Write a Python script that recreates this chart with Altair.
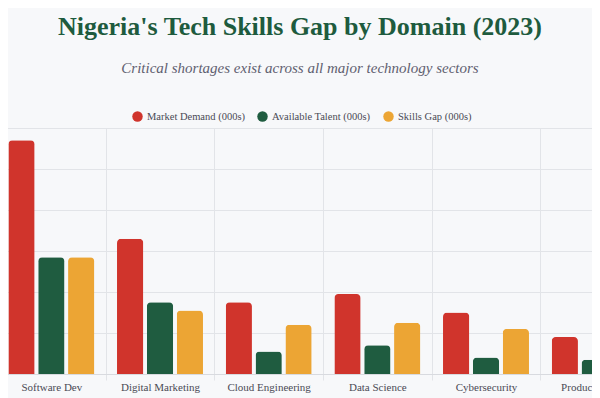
import altair as alt
import pandas as pd

categories = ["Software Dev", "Digital Marketing", "Cloud Engineering",
              "Data Science", "Cybersecurity", "Product Design"]
series = ["Market Demand (000s)", "Available Talent (000s)", "Skills Gap (000s)"]
demand = [114, 66, 35, 39, 30, 18]
talent = [57, 35, 11, 14, 8, 7]
gap = [57, 31, 24, 25, 22, 11]
colors = ["#d0342c", "#1f5c40", "#eca534"]

rows = []
for i, c in enumerate(categories):
    for s, vals in zip(series, [demand, talent, gap]):
        rows.append({"category": c, "series": s, "value": vals[i]})
df = pd.DataFrame(rows)

FONT = "Liberation Serif"

bars = alt.Chart(df).mark_bar(
    cornerRadiusTopLeft=4, cornerRadiusTopRight=4
).encode(
    x=alt.X("category:N", sort=categories, title=None,
            scale=alt.Scale(range=[-11, 641], paddingInner=0, paddingOuter=0),
            axis=alt.Axis(labelAngle=0, tickBand="extent", grid=True,
                          gridColor="#e2e4e8", tickColor="#e2e4e8", tickSize=6,
                          domainColor="#d8dadf", labelFont=FONT, labelFontSize=11,
                          labelColor="#4a4a55", labelPadding=1)),
    xOffset=alt.XOffset("series:N", sort=series,
                        scale=alt.Scale(paddingInner=0.12, paddingOuter=0.38)),
    y=alt.Y("value:Q", title=None,
            scale=alt.Scale(domain=[0, 120], nice=False),
            axis=alt.Axis(values=[0, 20, 40, 60, 80, 100, 120], labels=False,
                          ticks=False, domain=False, grid=True,
                          gridColor="#e2e4e8")),
    color=alt.Color("series:N", sort=series,
                    scale=alt.Scale(domain=series, range=colors),
                    legend=alt.Legend(orient="none", legendX=124, legendY=-17,
                                      direction="horizontal", title=None,
                                      symbolType="circle", symbolSize=110,
                                      symbolStrokeWidth=0,
                                      labelFont=FONT, labelFontSize=10.5,
                                      labelColor="#4a4a55", labelOffset=4,
                                      columnPadding=12)),
)

chart = bars.properties(
    width=584,
    height=246,
    autosize=alt.AutoSizeParams(type="none"),
    padding={"left": 0, "top": 120, "right": 0, "bottom": 24},
    background="#f7f8fa",
    title=alt.TitleParams(
        text="Nigeria's Tech Skills Gap by Domain (2023)",
        subtitle="Critical shortages exist across all major technology sectors",
        anchor="middle", font=FONT, fontSize=26, fontWeight="bold",
        color="#1e5b3e", subtitleFont=FONT, subtitleFontSize=15,
        subtitleFontStyle="italic", subtitleColor="#5f6070",
        subtitlePadding=21, offset=35, dx=0,
    ),
).configure_view(stroke=None)

chart.save("out.html", embed_options={"renderer": "svg", "actions": False})
